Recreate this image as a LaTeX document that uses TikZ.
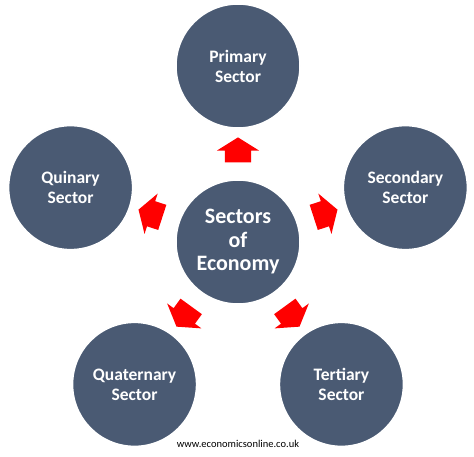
\documentclass[tikz,border=0pt]{standalone}
\usepackage{fontspec}
\setmainfont{Carlito}
\usetikzlibrary{shapes.arrows, positioning, calc}
\definecolor{sector_slate}{HTML}{4A5A73}
\definecolor{sector_red}{HTML}{FF0000}

\begin{document}
\begin{tikzpicture}[
                x=1pt, y=1pt,
                sector/.style={circle, draw=white, line width=1.5pt, fill=sector_slate, text=white, minimum size=124pt, inner sep=0pt, align=center, font=\bfseries\fontsize{17.5}{20}\selectfont},
                hub/.style={sector, font=\bfseries\fontsize{22}{23.5}\selectfont},
                push/.style={single arrow, fill=sector_red, draw=none, minimum height=25pt, inner xsep=0pt, inner ysep=13pt, single arrow head extend=8pt, single arrow tip angle=116}
            ]
                \useasboundingbox (-238,242) rectangle (236,-214);

                % Nodes
                \node (economy) [hub] at (0,0) {Sectors\\of\\Economy};
                \node (primary) [sector] at (90:176) {Primary\\Sector};
                \node (secondary) [sector] at (18:176) {Secondary\\Sector};
                \node (tertiary) [sector] at (-54:176) {Tertiary\\Sector};
                \node (quaternary) [sector] at (-126:176) {Quaternary\\Sector};
                \node (quinary) [sector] at (162:176) {Quinary\\Sector};

                % Arrows
                \node (to_primary) [push, rotate=90] at ($(economy)!0.5!(primary)$) {};
                \node (to_secondary) [push, rotate=18] at ($(economy)!0.5!(secondary)$) {};
                \node (to_tertiary) [push, rotate=-54] at ($(economy)!0.5!(tertiary)$) {};
                \node (to_quaternary) [push, rotate=-126] at ($(economy)!0.5!(quaternary)$) {};
                \node (to_quinary) [push, rotate=162] at ($(economy)!0.5!(quinary)$) {};

                % Source
                \node (source) [font=\fontsize{10.5}{12}\selectfont] at (0,-202) {www.economicsonline.co.uk};
            \end{tikzpicture}
\end{document}
